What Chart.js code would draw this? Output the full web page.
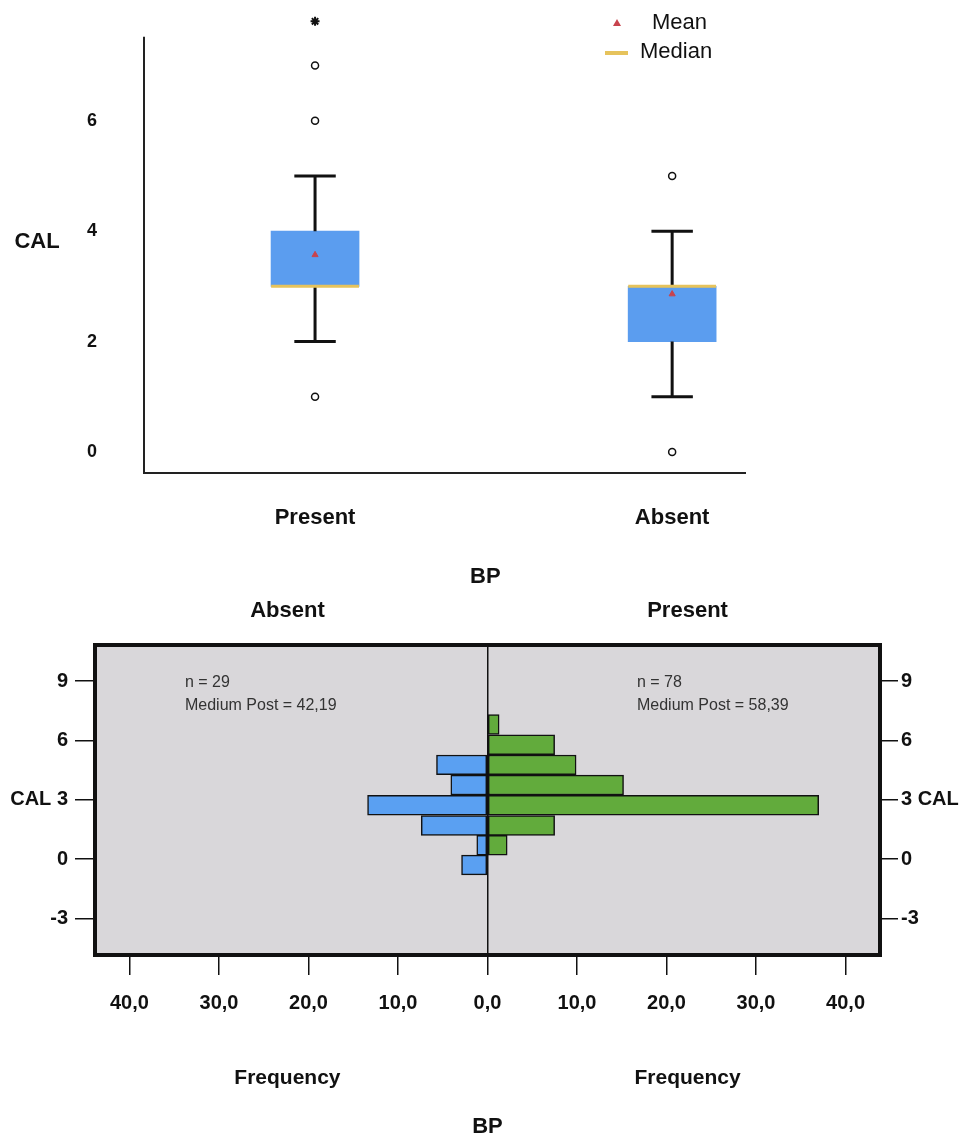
<!DOCTYPE html>
<html lang="en">
<head>
<meta charset="UTF-8">
<title>CAL by BP</title>
<script src="https://cdn.jsdelivr.net/npm/chart.js@4"></script>
<style>
  body { margin: 0; background: #fff; }
  .wrap { position: relative; width: 968px; }
  #top { height: 590px; }
  #bottom { height: 553px; }
</style>
</head>
<body>
<div class="wrap" id="top"><canvas id="boxChart"></canvas></div>
<div class="wrap" id="bottom"><canvas id="pyramidChart"></canvas></div>
<script>
// box plot: CAL by BP group
const GROUPS = ['Present', 'Absent'];
const Q1 = [3, 2];
const MEDIAN = [3, 3];
const Q3 = [4, 3];
const WHISKER_LO = [2, 1];
const WHISKER_HI = [5, 4];
const MEAN = [3.57, 2.86];
const OUTLIERS = [[1, 6, 7], [0, 5]];
const EXTREMES = [[7.8], []];
const BOX_Y_TICKS = [0, 2, 4, 6];

// pyramid: CAL frequency per BP group
const CAL_BINS = [6.8, 5.78, 4.76, 3.74, 2.72, 1.7, 0.7, -0.3];
const FREQ_ABSENT = [null, null, 5.7, 4.1, 13.4, 7.4, 1.2, 2.9];
const FREQ_PRESENT = [1.3, 7.5, 9.9, 15.2, 37.0, 7.5, 2.2, null];
const FREQ_TICKS = [-40, -30, -20, -10, 0, 10, 20, 30, 40];
const CAL_TICKS = [-3, 0, 3, 6, 9];
const SIDE_TITLES = ['Absent', 'Present'];
const N_LABELS = ['n = 29', 'n = 78'];
const POST_LABELS = ['Medium Post = 42,19', 'Medium Post = 58,39'];

const FONT = "'Liberation Sans', Arial, sans-serif";
Chart.defaults.font.family = FONT;
Chart.defaults.color = '#111';

// ---------- top: box plot ----------
const CAP = 0.058, HALF_BOX = 0.123;
const AXIS_TOP = 7.52;  // where the drawn y axis line stops
const gap = () => ({x: null, y: null});
const whiskers = [], medians = [], outliers = [], extremes = [];
GROUPS.forEach((g, i) => {
    whiskers.push({x: i, y: Q3[i]}, {x: i, y: WHISKER_HI[i]}, gap(),
        {x: i - CAP, y: WHISKER_HI[i]}, {x: i + CAP, y: WHISKER_HI[i]}, gap(),
        {x: i, y: Q1[i]}, {x: i, y: WHISKER_LO[i]}, gap(),
        {x: i - CAP, y: WHISKER_LO[i]}, {x: i + CAP, y: WHISKER_LO[i]}, gap());
    medians.push({x: i - HALF_BOX, y: MEDIAN[i]}, {x: i + HALF_BOX, y: MEDIAN[i]}, gap());
    OUTLIERS[i].forEach(v => outliers.push({x: i, y: v}));
    EXTREMES[i].forEach(v => extremes.push({x: i, y: v}));
});

const boxExtras = {
    id: 'boxExtras',
    afterDraw(chart) {
        const {ctx, chartArea: a, scales: {x, y}} = chart;
        ctx.save();
        // y axis line stops below the extreme value
        ctx.strokeStyle = '#222';
        ctx.lineWidth = 2;
        ctx.beginPath();
        ctx.moveTo(a.left, y.getPixelForValue(AXIS_TOP));
        ctx.lineTo(a.left, a.bottom);
        ctx.stroke();

        ctx.fillStyle = '#111';
        ctx.textBaseline = 'middle';
        ctx.textAlign = 'center';
        ctx.font = 'bold 22px ' + FONT;
        ctx.fillText('CAL', 37, 242);
        ctx.fillText('BP', x.getPixelForValue(0.477), 577);

        // legend
        ctx.fillStyle = '#c8434d';
        ctx.beginPath();
        ctx.moveTo(617, 19); ctx.lineTo(621, 26); ctx.lineTo(613, 26); ctx.closePath();
        ctx.fill();
        ctx.strokeStyle = '#e6c35c';
        ctx.lineWidth = 4;
        ctx.beginPath(); ctx.moveTo(605, 53); ctx.lineTo(628, 53); ctx.stroke();
        ctx.fillStyle = '#111';
        ctx.textAlign = 'left';
        ctx.font = '22px ' + FONT;
        ctx.fillText('Mean', 652, 23);
        ctx.fillText('Median', 640, 52);
        ctx.restore();
    }
};

new Chart(document.getElementById('boxChart'), {
    type: 'bar',
    data: {
        datasets: [
            { type: 'scatter', label: 'Extreme', data: extremes, pointStyle: 'star',
              pointRadius: 4.5, borderColor: '#111', borderWidth: 2, clip: false },
            { type: 'scatter', label: 'Outlier', data: outliers, pointStyle: 'circle',
              pointRadius: 3.5, backgroundColor: '#fff', borderColor: '#111', borderWidth: 1.5, clip: false },
            { type: 'scatter', label: 'Mean', data: GROUPS.map((g, i) => ({x: i, y: MEAN[i]})),
              pointStyle: 'triangle', pointRadius: 3.5, backgroundColor: '#c8434d', borderColor: '#c8434d', borderWidth: 1 },
            { type: 'line', label: 'Median', data: medians, borderColor: '#e6c35c',
              borderWidth: 3, pointRadius: 0, spanGaps: false },
            { type: 'line', label: 'Whisker', data: whiskers, borderColor: '#111',
              borderWidth: 3, pointRadius: 0, spanGaps: false },
            { type: 'bar', label: 'IQR', data: GROUPS.map((g, i) => ({x: i, y: [Q1[i], Q3[i]]})),
              backgroundColor: '#5b9def', barThickness: 88, borderWidth: 0 }
        ]
    },
    options: {
        responsive: true,
        maintainAspectRatio: false,
        animation: false,
        layout: { padding: { top: 13, right: 223, left: 0, bottom: 0 } },
        plugins: { legend: { display: false }, tooltip: { enabled: false } },
        scales: {
            x: {
                type: 'linear', min: -0.479, max: 1.204, offset: false,
                afterBuildTicks: s => { s.ticks = GROUPS.map((g, i) => ({value: i})); },
                afterFit: s => { s.height = 117; },
                grid: { display: false, drawTicks: true, tickLength: 32, offset: false },
                border: { display: true, color: '#222', width: 2 },
                ticks: { padding: 0, maxRotation: 0, font: { size: 22, weight: 'bold' }, color: '#111',
                         callback: v => GROUPS[v] }
            },
            y: {
                type: 'linear', min: -0.38, max: 7.95,
                afterBuildTicks: s => { s.ticks = BOX_Y_TICKS.map(v => ({value: v})); },
                afterFit: s => { s.width = 144; },
                grid: { display: false, drawTicks: true, tickLength: 47 },
                border: { display: false },
                ticks: { padding: 0, font: { size: 18, weight: 'bold' }, color: '#111' }
            }
        }
    },
    plugins: [boxExtras]
});

// ---------- bottom: back-to-back histogram ----------
const pyramidExtras = {
    id: 'pyramidExtras',
    beforeDraw(chart) {
        const {ctx, chartArea: a} = chart;
        ctx.save();
        ctx.fillStyle = '#d9d7da';
        ctx.fillRect(a.left, a.top, a.right - a.left, a.bottom - a.top);
        ctx.restore();
    },
    afterDraw(chart) {
        const {ctx, chartArea: a, scales: {x}} = chart;
        ctx.save();
        ctx.strokeStyle = '#111';
        ctx.lineWidth = 4;
        ctx.strokeRect(a.left, a.top, a.right - a.left, a.bottom - a.top);

        ctx.fillStyle = '#111';
        ctx.textBaseline = 'middle';
        ctx.textAlign = 'center';
        ctx.font = 'bold 22px ' + FONT;
        [-22.35, 22.35].forEach((v, i) => ctx.fillText(SIDE_TITLES[i], x.getPixelForValue(v), 21));
        ctx.font = 'bold 21px ' + FONT;
        [-22.35, 22.35].forEach(v => ctx.fillText('Frequency', x.getPixelForValue(v), 488));
        ctx.font = 'bold 22px ' + FONT;
        ctx.fillText('BP', x.getPixelForValue(0), 537);

        ctx.textAlign = 'left';
        ctx.fillStyle = '#333';
        ctx.font = '16px ' + FONT;
        [-33.8, 16.7].forEach((v, i) => {
            const px = x.getPixelForValue(v);
            ctx.fillText(N_LABELS[i], px, 93);
            ctx.fillText(POST_LABELS[i], px, 116);
        });
        ctx.restore();
    }
};

const calAxis = (pos, width, tickLen, pad, fmt) => ({
    type: 'linear', position: pos, min: -4.85, max: 10.82, offset: false,
    afterBuildTicks: s => { s.ticks = CAL_TICKS.map(v => ({value: v})); },
    afterFit: s => { s.width = width; },
    grid: { drawOnChartArea: false, offset: false, tickLength: tickLen, color: '#111', lineWidth: 1.5 },
    border: { display: false },
    ticks: { padding: pad, font: { size: 20, weight: 'bold' }, color: '#111', callback: fmt }
});

new Chart(document.getElementById('pyramidChart'), {
    type: 'bar',
    data: {
        datasets: [
            { label: 'Absent', data: CAL_BINS.map((c, i) => ({y: c, x: FREQ_ABSENT[i] == null ? null : -FREQ_ABSENT[i]})),
              backgroundColor: '#5aa0f2', borderColor: '#111', borderWidth: 1.5, borderSkipped: false,
              grouped: false, barPercentage: 1, categoryPercentage: 1 },
            { label: 'Present', data: CAL_BINS.map((c, i) => ({y: c, x: FREQ_PRESENT[i]})),
              backgroundColor: '#62ab3c', borderColor: '#111', borderWidth: 1.5, borderSkipped: false,
              grouped: false, barPercentage: 1, categoryPercentage: 1 }
        ]
    },
    options: {
        indexAxis: 'y',
        responsive: true,
        maintainAspectRatio: false,
        animation: false,
        layout: { padding: { top: 55, bottom: 128, left: 0, right: 0 } },
        plugins: { legend: { display: false }, tooltip: { enabled: false } },
        scales: {
            x: {
                type: 'linear', min: -43.85, max: 43.85,
                afterBuildTicks: s => { s.ticks = FREQ_TICKS.map(v => ({value: v})); },
                afterFit: s => { s.height = 60; },
                grid: { drawOnChartArea: true, tickLength: 20, lineWidth: 1.5, tickColor: '#111', tickWidth: 1.5,
                        color: c => (c.tick && c.tick.value === 0) ? '#111' : 'rgba(0,0,0,0)' },
                border: { display: false },
                ticks: { padding: 16, maxRotation: 0, autoSkip: false, font: { size: 20, weight: 'bold' }, color: '#111',
                         callback: v => Math.abs(v).toFixed(1).replace('.', ',') }
            },
            y: calAxis('left', 95, 20, 7, v => v === 3 ? 'CAL 3' : String(v)),
            y2: calAxis('right', 88, 18, 3, v => v === 3 ? '3 CAL' : String(v))
        }
    },
    plugins: [pyramidExtras]
});
</script>
</body>
</html>
